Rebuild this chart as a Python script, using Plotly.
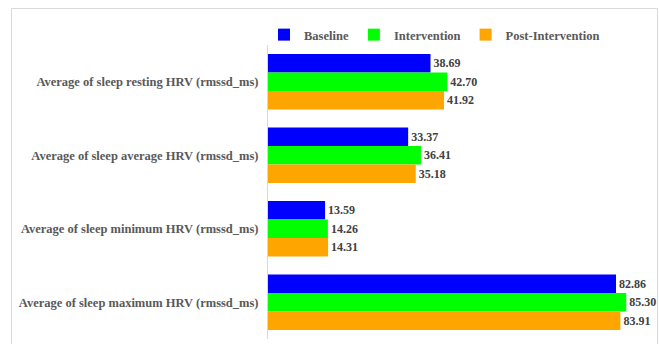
import plotly.graph_objects as go

categories = [
    "Average of sleep resting HRV (rmssd_ms)",
    "Average of sleep average HRV (rmssd_ms)",
    "Average of sleep minimum HRV (rmssd_ms)",
    "Average of sleep maximum HRV (rmssd_ms)",
]
baseline = [38.69, 33.37, 13.59, 82.86]
intervention = [42.70, 36.41, 14.26, 85.30]
post_intervention = [41.92, 35.18, 14.31, 83.91]

series = [
    ("Baseline", baseline, "#0000FF"),
    ("Intervention", intervention, "#00FF00"),
    ("Post-Intervention", post_intervention, "#FFA500"),
]

FONT = "Liberation Serif, Times New Roman, serif"

fig = go.Figure()
for name, vals, color in series:
    fig.add_trace(go.Bar(
        name=name,
        y=categories,
        x=vals,
        orientation="h",
        marker=dict(color=color, line=dict(width=0)),
        text=[f"{v:.2f}" for v in vals],
        textposition="outside",
        cliponaxis=False,
        textfont=dict(family=FONT, size=12, color="#404040", weight="bold"),
        hoverinfo="skip",
    ))

W, H = 659, 344
L, R, T, B = 268, 13, 45, 5
pw, ph = W - L - R, H - T - B

def px_to_paper_x(px):
    return (px - L) / pw

def px_to_paper_y(py):
    return (H - B - py) / ph

fig.update_layout(
    width=W, height=H,
    margin=dict(l=L, r=R, t=T, b=B, pad=0, autoexpand=False),
    barmode="group",
    bargap=0.242,
    bargroupgap=0,
    paper_bgcolor="white",
    plot_bgcolor="white",
    font=dict(family=FONT, size=12.5, color="#595959", weight="bold"),
    xaxis=dict(range=[0, 90], visible=False, showgrid=False, zeroline=False),
    yaxis=dict(
        autorange="reversed",
        showline=True, linecolor="#D9D9D9", linewidth=1,
        showgrid=False, ticks="", ticklabelstandoff=6,
        tickfont=dict(family=FONT, size=12.5, color="#595959", weight="bold"),
    ),
    legend=dict(
        orientation="h",
        x=px_to_paper_x(264), xanchor="left",
        y=px_to_paper_y(35), yanchor="middle",
        font=dict(family=FONT, size=12.5, color="#595959", weight="bold"),
        bgcolor="rgba(0,0,0,0)",
    ),
    shapes=[dict(
        type="rect", xref="paper", yref="paper",
        x0=px_to_paper_x(11.5), x1=px_to_paper_x(657.5),
        y0=px_to_paper_y(346), y1=px_to_paper_y(8.5),
        line=dict(color="#D9D9D9", width=1), fillcolor="rgba(0,0,0,0)",
        layer="below",
    )],
)

fig.write_html(
    "out.html",
    config={"displayModeBar": False},
    post_script="document.body.style.margin='0';",
)
